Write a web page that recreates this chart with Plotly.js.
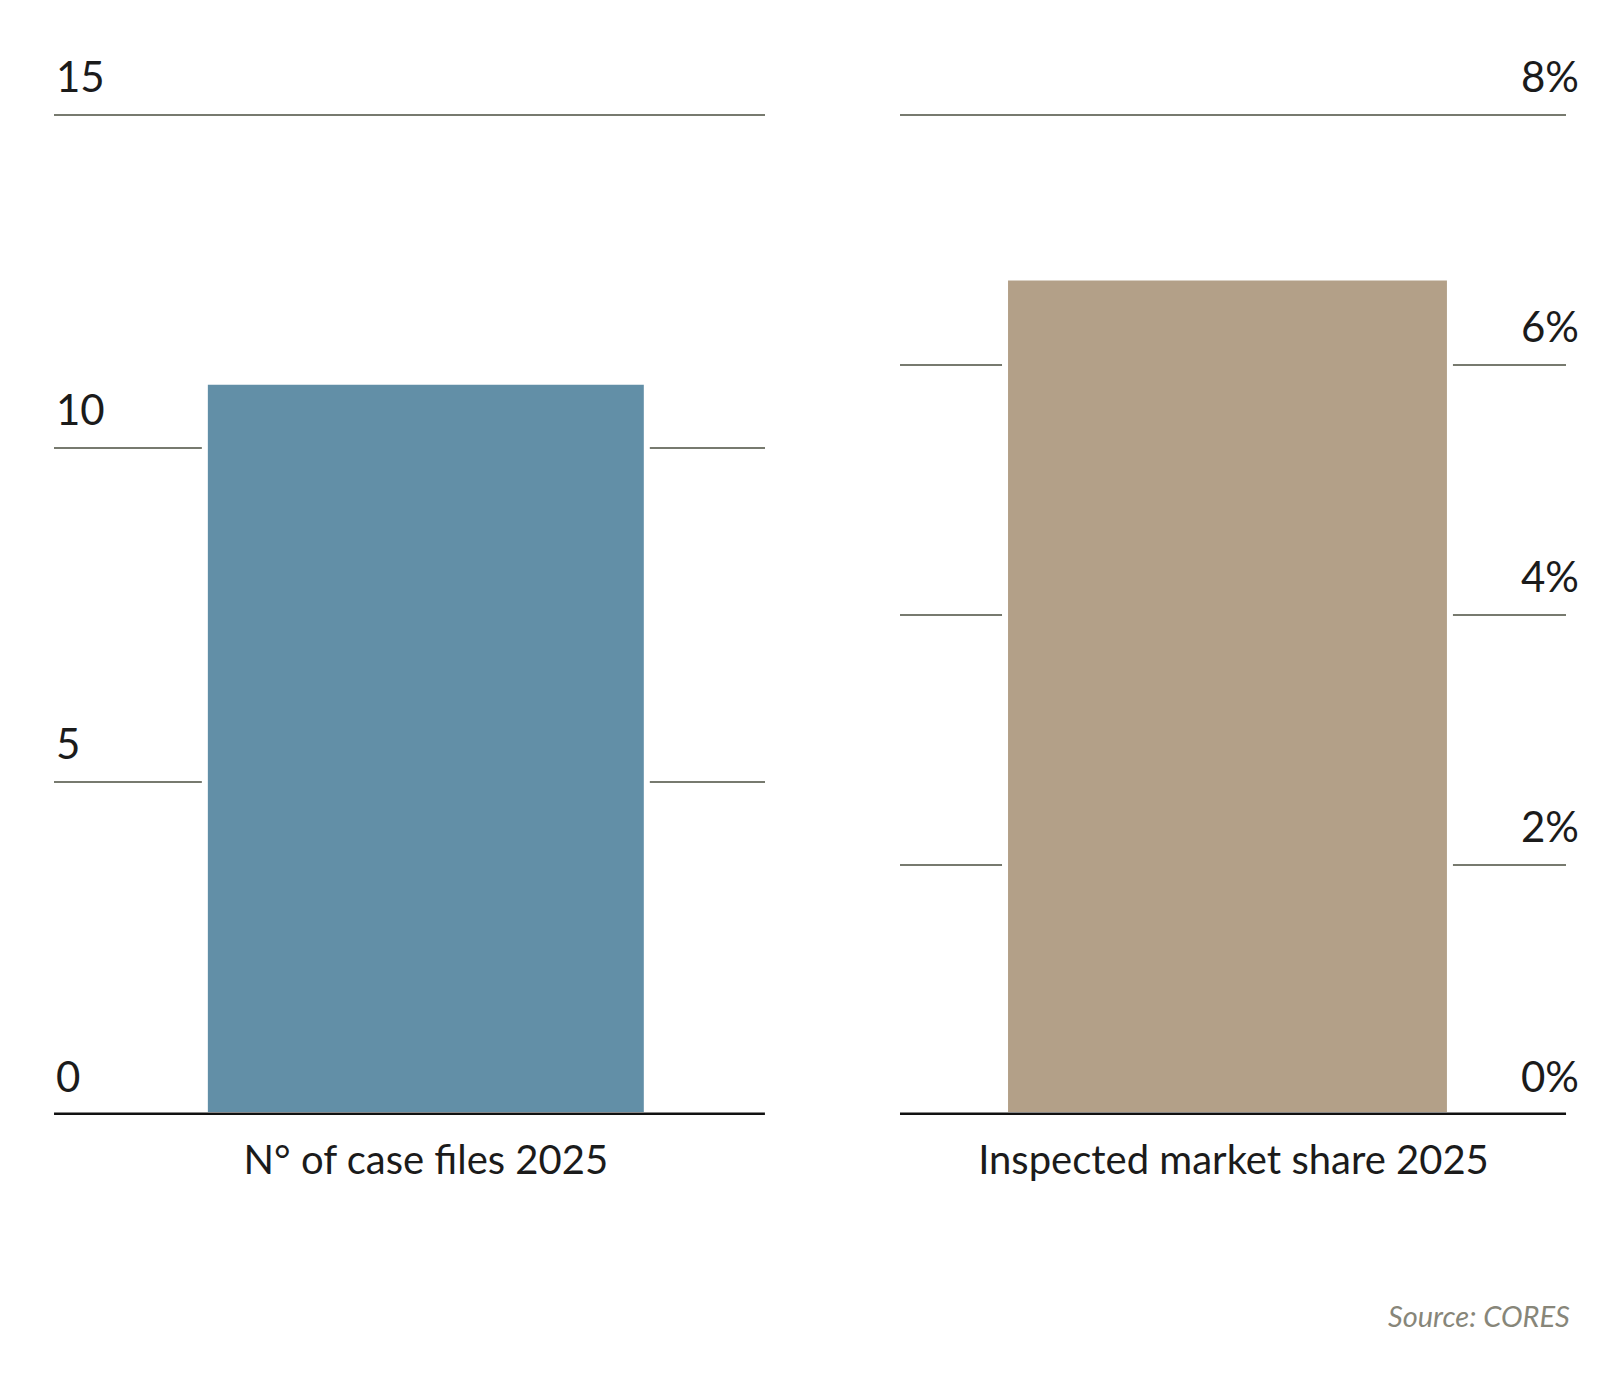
<!DOCTYPE html>
<html>
<head>
<meta charset="utf-8">
<script src="https://cdn.plot.ly/plotly-3.0.1.min.js"></script>
<style>
  html, body { margin: 0; padding: 0; background: #ffffff; }
  #chart { width: 1608px; height: 1375px; }
</style>
</head>
<body>
<div id="chart"></div>
<script>
// ---- Data ----
const leftCategories = ['N° of case files 2025'];
const leftValues = [11];
const rightCategories = ['Inspected market share 2025'];
const rightValues = [6.7];            // percent
const leftTickVals = [0, 5, 10, 15];
const leftTickText = ['0', '5', '10', '15'];
const rightTickVals = [0, 2, 4, 6, 8];
const rightTickText = ['0%', '2%', '4%', '6%', '8%'];
const sourceText = 'Source: CORES';

// ---- Styles ----
const FONT = 'Lato, "Open Sans", sans-serif';
const TEXT_COLOR = '#1b1b1b';
const GRID_COLOR = '#777a6f';
const LEFT_COLOR = '#628fa7';
const RIGHT_COLOR = '#b3a088';
const TICK_SIZE = 40;
const YTICK_SIZE = 42;

const traces = [
  {
    type: 'bar',
    x: leftCategories,
    y: leftValues,
    xaxis: 'x',
    yaxis: 'y',
    width: 0.6217,
    marker: { color: LEFT_COLOR, line: { color: '#ffffff', width: 6 } },
    hoverinfo: 'skip'
  },
  {
    type: 'bar',
    x: rightCategories,
    y: rightValues,
    xaxis: 'x2',
    yaxis: 'y2',
    width: 0.668,
    marker: { color: RIGHT_COLOR, line: { color: '#ffffff', width: 6 } },
    hoverinfo: 'skip'
  }
];

// plot area: bottom at 1115px, top a couple of px above the top gridline (111px)
const yDomain = [(1375 - 1115) / 1375, (1375 - 111) / 1375];

function axisTickAnnotations(vals, texts, xref, yref, xpos, anchor, xshift, yshift) {
  return vals.map((v, i) => ({
    text: texts[i],
    xref: xref, yref: yref,
    x: xpos, y: v,
    xanchor: anchor, yanchor: 'bottom',
    xshift: xshift, yshift: yshift,
    showarrow: false,
    font: { family: FONT, size: YTICK_SIZE, color: TEXT_COLOR }
  }));
}

const annotations = []
  .concat(axisTickAnnotations(leftTickVals, leftTickText, 'x domain', 'y', 0, 'left', 0, 12))
  .concat(axisTickAnnotations(rightTickVals, rightTickText, 'x2 domain', 'y2', 1, 'right', 15, 12))
  .concat([{
    text: sourceText,
    xref: 'paper', yref: 'paper',
    x: 0.9775, y: 1 - 1315 / 1375,
    xanchor: 'right', yanchor: 'middle',
    showarrow: false,
    font: { family: FONT, size: 29, color: '#878679', style: 'italic' }
  }]);

const baseline = (xref, yref) => ({
  type: 'line', xref: xref, yref: yref,
  x0: 0, x1: 1, y0: 0, y1: 0,
  line: { color: '#111111', width: 5 },
  layer: 'above'
});

const commonX = {
  type: 'category',
  showgrid: false,
  zeroline: false,
  showline: false,
  ticks: '',
  tickfont: { family: FONT, size: TICK_SIZE, color: TEXT_COLOR },
  ticklabelstandoff: 18,
  fixedrange: true
};

const commonY = {
  domain: yDomain,
  tickmode: 'array',
  showgrid: true,
  gridcolor: GRID_COLOR,
  gridwidth: 2,
  zeroline: false,
  showline: false,
  ticks: '',
  showticklabels: false,
  fixedrange: true
};

const layout = {
  width: 1608,
  height: 1375,
  margin: { l: 0, r: 0, t: 0, b: 0, pad: 0 },
  paper_bgcolor: '#ffffff',
  plot_bgcolor: 'rgba(0,0,0,0)',
  showlegend: false,
  font: { family: FONT, color: TEXT_COLOR, size: TICK_SIZE },
  xaxis: Object.assign({}, commonX, { domain: [0.0336, 0.4757], anchor: 'y', range: [-0.523, 0.477] }),
  xaxis2: Object.assign({}, commonX, { domain: [0.5597, 0.9739], anchor: 'y2', range: [-0.4917, 0.5083], ticklabelshift: 6 }),
  yaxis: Object.assign({}, commonY, { anchor: 'x', range: [0, 15.06], tickvals: leftTickVals, ticktext: leftTickText }),
  yaxis2: Object.assign({}, commonY, { anchor: 'x2', side: 'right', range: [0, 8.032], tickvals: rightTickVals, ticktext: rightTickText }),
  shapes: [baseline('x domain', 'y'), baseline('x2 domain', 'y2')],
  annotations: annotations
};

Plotly.newPlot('chart', traces, layout, { staticPlot: true, displayModeBar: false });
</script>
</body>
</html>
